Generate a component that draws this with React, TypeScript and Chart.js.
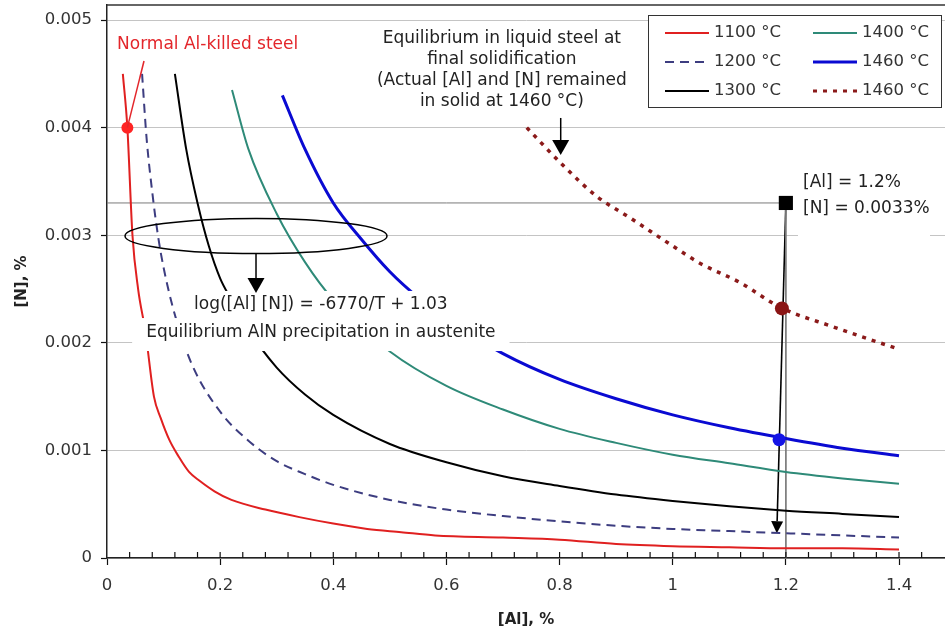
import React, { useEffect, useRef } from 'react';
import { Chart, registerables } from 'chart.js';

Chart.register(...registerables);

const FONT = '"DejaVu Sans", "Liberation Sans", Arial, sans-serif';

// Solubility curves: [Al] (%) vs [N] (%) for each temperature
const al1100 = [0.028, 0.036, 0.045, 0.055, 0.068, 0.083, 0.095, 0.11, 0.127, 0.145, 0.163, 0.19, 0.22, 0.28, 0.34, 0.4, 0.46, 0.52, 0.58, 0.7, 0.8, 0.9, 1.0, 1.1, 1.2, 1.3, 1.4];
const n1100 = [0.0045, 0.004, 0.003, 0.0025, 0.0021, 0.0015, 0.0013, 0.0011, 0.00094, 0.0008, 0.00072, 0.00062, 0.00054, 0.00045, 0.00038, 0.00032, 0.00027, 0.00024, 0.00021, 0.00019, 0.00017, 0.00013, 0.00011, 0.0001, 0.00009, 0.00009, 0.00008];

const al1200 = [0.062, 0.07, 0.08, 0.09, 0.1, 0.12, 0.15, 0.2, 0.25, 0.3, 0.35, 0.4, 0.5, 0.6, 0.7, 0.8, 0.9, 1.0, 1.1, 1.2, 1.3, 1.4];
const n1200 = [0.0045, 0.0039, 0.0034, 0.003, 0.0027, 0.00226, 0.0018, 0.00136, 0.00109, 0.0009, 0.00078, 0.00068, 0.00054, 0.00045, 0.00039, 0.00034, 0.0003, 0.00027, 0.00025, 0.00023, 0.00021, 0.00019];

const al1300 = [0.12, 0.14, 0.16, 0.18, 0.2, 0.22, 0.25, 0.3, 0.35, 0.4, 0.5, 0.6, 0.7, 0.8, 0.9, 1.0, 1.1, 1.2, 1.3, 1.4];
const n1300 = [0.0045, 0.0038, 0.0033, 0.0029, 0.0026, 0.0024, 0.00212, 0.00177, 0.00152, 0.00133, 0.00106, 0.00089, 0.00076, 0.00067, 0.00059, 0.00053, 0.00048, 0.00044, 0.00041, 0.00038];

const al1400 = [0.221, 0.25, 0.3, 0.35, 0.4, 0.5, 0.6, 0.7, 0.8, 0.9, 1.0, 1.1, 1.2, 1.3, 1.4];
const n1400 = [0.00435, 0.0038, 0.0032, 0.00275, 0.0024, 0.00192, 0.0016, 0.00138, 0.0012, 0.00107, 0.00096, 0.00088, 0.0008, 0.00074, 0.00069];

const al1460 = [0.31, 0.35, 0.4, 0.45, 0.5, 0.55, 0.6, 0.7, 0.8, 0.9, 1.0, 1.1, 1.2, 1.3, 1.4];
const n1460 = [0.0043, 0.0038, 0.0033, 0.00296, 0.00266, 0.00242, 0.00222, 0.0019, 0.00166, 0.00148, 0.00133, 0.00121, 0.00111, 0.00102, 0.00095];

// Liquid steel at final solidification, 1460 °C
const al1460Liquid = [0.742, 0.806, 0.866, 0.925, 1.0, 1.048, 1.119, 1.19, 1.283, 1.4];
const n1460Liquid = [0.004, 0.00365, 0.00336, 0.00316, 0.0029, 0.00274, 0.00256, 0.00233, 0.00215, 0.00194];

const legendLabels = ['1100 °C', '1200 °C', '1300 °C', '1400 °C', '1460 °C', '1460 °C'];

// Marked compositions
const normalSteel = { x: 0.036, y: 0.004 };
const liquidPoint = { x: 1.193, y: 0.00232 };
const solidPoint = { x: 1.188, y: 0.0011 };
const actualPoint = { x: 1.2, y: 0.0033 };
const arrowEnd = { x: 1.184, y: 0.00023 };

const xTicksStep = 0.2;
const xMinorStep = 0.04;
const yTicksStep = 0.001;

const pts = (xs: number[], ys: number[]) => xs.map((x, i) => ({ x, y: ys[i] }));

function arrow(ctx: CanvasRenderingContext2D, x1: number, y1: number, x2: number, y2: number, headLen: number, headW: number, width = 1.5) {
  const ang = Math.atan2(y2 - y1, x2 - x1);
  const bx = x2 - Math.cos(ang) * headLen;
  const by = y2 - Math.sin(ang) * headLen;
  ctx.save();
  ctx.strokeStyle = '#000';
  ctx.fillStyle = '#000';
  ctx.lineWidth = width;
  ctx.beginPath();
  ctx.moveTo(x1, y1);
  ctx.lineTo(bx, by);
  ctx.stroke();
  const px = -Math.sin(ang) * headW / 2;
  const py = Math.cos(ang) * headW / 2;
  ctx.beginPath();
  ctx.moveTo(x2, y2);
  ctx.lineTo(bx + px, by + py);
  ctx.lineTo(bx - px, by - py);
  ctx.closePath();
  ctx.fill();
  ctx.restore();
}

const annotationPlugin = {
  id: 'aln-annotations',
  beforeDatasetsDraw(chart: any) {
    const { ctx, scales } = chart;
    const X = (v: number) => scales.x.getPixelForValue(v);
    const Y = (v: number) => scales.y.getPixelForValue(v);
    ctx.save();
    ctx.beginPath();
    ctx.rect(chart.chartArea.left, chart.chartArea.top, chart.chartArea.width, chart.chartArea.height);
    ctx.clip();
    arrow(ctx, X(actualPoint.x), Y(actualPoint.y), X(arrowEnd.x), Y(arrowEnd.y), 12, 12, 1.6);
    ctx.restore();
  },
  afterDatasetsDraw(chart: any) {
    const { ctx, scales } = chart;
    const X = (v: number) => scales.x.getPixelForValue(v);
    const Y = (v: number) => scales.y.getPixelForValue(v);
    ctx.save();
    ctx.font = `17px ${FONT}`;
    ctx.textBaseline = 'middle';

    // Formula and caption with their white boxes
    const cx = X(0.378);
    const l1y = Y(0.002352);
    const l2y = Y(0.002091);
    const t1 = 'log([Al] [N]) = -6770/T + 1.03';
    const t2 = 'Equilibrium AlN precipitation in austenite';
    const w1 = ctx.measureText(t1).width;
    const w2 = ctx.measureText(t2).width;
    ctx.fillStyle = '#fff';
    ctx.fillRect(cx - w1 / 2 - 6, l1y - 14, w1 + 12, 28);
    ctx.fillRect(cx - w2 / 2 - 14, l2y - 15, w2 + 28, 33);
    ctx.fillStyle = '#222';
    ctx.textAlign = 'center';
    ctx.fillText(t1, cx, l1y);
    ctx.fillText(t2, cx, l2y);

    // Ellipse around the 0.003 band with arrow to formula
    const ex = X(0.2634), ey = Y(0.002993);
    const erx = X(0.2634 + 0.2316) - ex;
    const ery = Y(0.002993) - Y(0.002993 + 0.000163);
    ctx.strokeStyle = '#000';
    ctx.lineWidth = 1.5;
    ctx.beginPath();
    ctx.ellipse(ex, ey, erx, ery, 0, 0, Math.PI * 2);
    ctx.stroke();
    arrow(ctx, ex, ey + ery, ex, Y(0.002463), 15, 17, 1.5);

    // Normal Al-killed steel label
    ctx.fillStyle = '#e3262b';
    ctx.textAlign = 'left';
    ctx.fillText('Normal Al-killed steel', X(0.0177), Y(0.00477));
    ctx.strokeStyle = '#e3262b';
    ctx.lineWidth = 1.5;
    ctx.beginPath();
    ctx.moveTo(X(0.0654), Y(0.004619));
    ctx.lineTo(X(normalSteel.x), Y(normalSteel.y));
    ctx.stroke();

    // Liquid-steel note
    const topLines = ['Equilibrium in liquid steel at', 'final solidification', '(Actual [Al] and [N] remained', 'in solid at 1460 °C)'];
    ctx.fillStyle = '#222';
    ctx.textAlign = 'center';
    const tx = X(0.698);
    const ty = Y(0.004824);
    topLines.forEach((s, i) => ctx.fillText(s, tx, ty + i * 20.8));
    arrow(ctx, X(0.802), Y(0.00409), X(0.802), Y(0.003745), 15, 17, 1.5);

    // Composition label
    const lx = X(1.2303);
    ctx.fillStyle = '#fff';
    ctx.fillRect(lx - 5, Y(0.003486) - 15, 132, 74);
    ctx.fillStyle = '#222';
    ctx.textAlign = 'left';
    ctx.fillText('[Al] = 1.2%', lx, Y(0.003486));
    ctx.fillText('[N] = 0.0033%', lx, Y(0.003244));
    ctx.restore();
  },
  afterDraw(chart: any) {
    const { ctx, scales, chartArea } = chart;
    ctx.save();
    // top frame line
    ctx.strokeStyle = '#333';
    ctx.lineWidth = 1.5;
    ctx.beginPath();
    ctx.moveTo(chartArea.left, chartArea.top);
    ctx.lineTo(chartArea.right, chartArea.top);
    ctx.stroke();

    // inner tick marks on the [Al] axis
    ctx.strokeStyle = '#111';
    ctx.lineWidth = 1.2;
    const xs = scales.x;
    const b = chartArea.bottom;
    for (let i = 1; i * xMinorStep < xs.max - 0.005; i++) {
      const px = xs.getPixelForValue(i * xMinorStep);
      ctx.beginPath();
      ctx.moveTo(px, b);
      ctx.lineTo(px, b - 6);
      ctx.stroke();
    }

    // legend
    const left = chartArea.right - 297;
    const top = chartArea.top + 10;
    ctx.fillStyle = '#fff';
    ctx.fillRect(left, top, 294, 93);
    ctx.strokeStyle = '#333';
    ctx.lineWidth = 1;
    ctx.strokeRect(left + 0.5, top + 0.5, 293, 92);
    ctx.font = `16.5px ${FONT}`;
    ctx.textBaseline = 'middle';
    ctx.textAlign = 'left';
    const entries = chart.data.datasets.filter((d: any) => legendLabels.includes(d.label));
    entries.forEach((d: any, i: number) => {
      const col = Math.floor(i / 3);
      const row = i % 3;
      const sx = left + (col === 0 ? 17 : 165);
      const sy = top + 18 + row * 29;
      ctx.strokeStyle = d.borderColor;
      ctx.lineWidth = Math.min(d.borderWidth, 3);
      ctx.setLineDash(d.borderDash || []);
      ctx.beginPath();
      ctx.moveTo(sx, sy);
      ctx.lineTo(sx + 44, sy);
      ctx.stroke();
      ctx.setLineDash([]);
      ctx.fillStyle = '#333';
      ctx.fillText(d.label, sx + 49, sy);
    });
    ctx.restore();
  },
};

export default function App() {
  const ref = useRef<HTMLCanvasElement>(null);

  useEffect(() => {
    document.body.style.margin = '0';
    const canvas = ref.current;
    if (!canvas) return;

    const curve = (label: string, xs: number[], ys: number[], color: string, width: number, dash: number[] = []) => ({
      label,
      data: pts(xs, ys),
      showLine: true,
      borderColor: color,
      backgroundColor: color,
      borderWidth: width,
      borderDash: dash,
      pointRadius: 0,
      cubicInterpolationMode: 'monotone',
      fill: false,
    });
    const marker = (p: { x: number; y: number }, color: string, radius: number, style = 'circle') => ({
      data: [p],
      showLine: false,
      pointRadius: radius,
      pointStyle: style,
      backgroundColor: color,
      borderColor: color,
      borderWidth: 0,
    });

    const chart = new Chart(canvas, {
      type: 'scatter',
      data: {
        datasets: [
          marker(normalSteel, '#ff2424', 6),
          marker(liquidPoint, '#8a1414', 7),
          marker(solidPoint, '#1414e6', 6.5),
          marker(actualPoint, '#000', 10, 'rect'),
          curve(legendLabels[0], al1100, n1100, '#e02020', 2),
          curve(legendLabels[1], al1200, n1200, '#3d3d80', 2, [9, 6]),
          curve(legendLabels[2], al1300, n1300, '#000', 2),
          curve(legendLabels[3], al1400, n1400, '#2e8a78', 2),
          curve(legendLabels[4], al1460, n1460, '#0a0ad2', 3),
          curve(legendLabels[5], al1460Liquid, n1460Liquid, '#8b1a1a', 3.5, [4, 6]),
          {
            data: [{ x: 0, y: actualPoint.y }, { x: actualPoint.x, y: actualPoint.y }, { x: actualPoint.x, y: 0 }],
            showLine: true,
            borderColor: '#7a7a7a',
            borderWidth: 1,
            pointRadius: 0,
            tension: 0,
          },
        ] as any,
      },
      options: {
        responsive: false,
        maintainAspectRatio: false,
        animation: false,
        devicePixelRatio: 1,
        events: [],
        layout: { autoPadding: false, padding: { top: 5, right: 0, bottom: 0, left: 0 } },
        plugins: {
          legend: { display: false },
          tooltip: { enabled: false },
        },
        scales: {
          x: {
            type: 'linear',
            min: 0,
            max: 1.4813,
            ticks: {
              stepSize: xTicksStep,
              includeBounds: false,
              color: '#333',
              padding: 11,
              font: { family: FONT, size: 16.5 },
              callback: (v: any) => String(+Number(v).toFixed(1)),
            },
            grid: { display: true, drawOnChartArea: false, drawTicks: true, tickLength: 7, tickColor: '#111', tickWidth: 1.2 },
            border: { display: true, color: '#222', width: 1.5 },
            title: {
              display: true,
              text: '[Al], %',
              color: '#222',
              font: { family: FONT, size: 15, weight: 'bold' },
              padding: { top: 0, bottom: 4 },
            },
            afterFit: (s: any) => {
              s.height = 75;
              s.paddingLeft = 0;
              s.paddingRight = 0;
            },
          },
          y: {
            type: 'linear',
            min: 0,
            max: 0.00514,
            ticks: {
              stepSize: yTicksStep,
              includeBounds: false,
              color: '#333',
              padding: 9,
              font: { family: FONT, size: 16.5 },
              callback: (v: any) => (Math.abs(v) < 1e-9 ? '0' : Number(v).toFixed(3)),
            },
            grid: { display: true, color: '#c4c4c4', lineWidth: 1, drawTicks: true, tickLength: 6, tickColor: '#111', tickWidth: 1.2 },
            border: { display: true, color: '#222', width: 1.5 },
            title: {
              display: true,
              text: '[N], %',
              color: '#222',
              font: { family: FONT, size: 15, weight: 'bold' },
              padding: { top: 13, bottom: 0 },
            },
            afterFit: (s: any) => {
              s.width = 107;
              s.paddingTop = 0;
              s.paddingBottom = 0;
            },
          },
        },
      } as any,
      plugins: [annotationPlugin],
    });

    return () => chart.destroy();
  }, []);

  return (
    <div style={{ width: 945, height: 633, position: 'relative' }}>
      <canvas ref={ref} width={945} height={633} style={{ display: 'block', width: 945, height: 633 }} />
    </div>
  );
}
